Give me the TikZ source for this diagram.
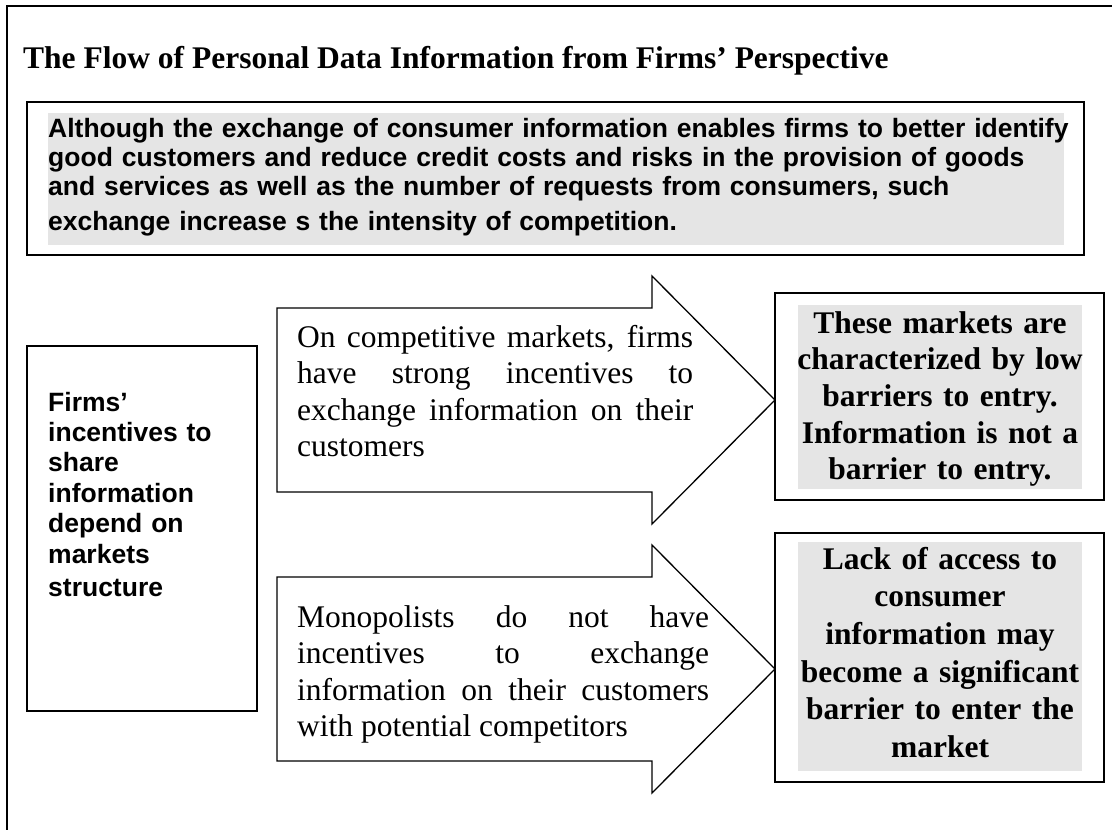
\documentclass[tikz,border=0pt]{standalone}
\usepackage{fontspec}
\setmainfont{Liberation Serif}
\setsansfont{Liberation Sans}
\definecolor{panelgrey}{RGB}{229,229,229}
\begin{document}
\begin{tikzpicture}[x=1pt,y=-1pt,
  frameline/.style={line width=2pt},
  boxline/.style={draw=black, line width=1.4pt},
  panel/.style={fill=panelgrey},
  blockarrow/.style={draw=black, line width=1.3pt, fill=white, line join=miter},
  titletext/.style={font=\bfseries\fontsize{31.5}{36}\selectfont, inner sep=0pt, anchor=base west},
  sanstext/.style={font=\sffamily\bfseries\fontsize{26.5}{29}\selectfont, inner sep=0pt, align=left, anchor=base west},
  bodytext/.style={font=\fontsize{31.5}{36.5}\selectfont, inner sep=0pt, align=justify, anchor=base west},
  resulttext/.style={font=\bfseries\fontsize{31.5}{36.7}\selectfont, inner sep=0pt, align=center, anchor=base, text width=310pt}]
\useasboundingbox (0,0) rectangle (1112,830);

% outer frame (left and top edges)
\draw[frameline] (7,830) -- (7,6) -- (1112,6);

% title
\node[titletext] (title) at (23,68) {The Flow of Personal Data Information from Firms’ Perspective};

% summary panel
\draw[boxline] (27,102) rectangle (1084,255);
\fill[panel] (48,113) rectangle (1064,245);
\node[sanstext, text width=1030pt] (summary) at (48,137) {Although the exchange of consumer information enables firms to better identify\\
good customers and reduce credit costs and risks in the provision of goods\\
and services as well as the number of requests from consumers, such\\[6pt]
exchange increase s the intensity of competition.};

% left box
\draw[boxline] (27,346) rectangle (257,711);
\node[sanstext, text width=205pt, font=\sffamily\bfseries\fontsize{26.5}{30.4}\selectfont] (incentives) at (48,411) {Firms’\\
incentives to\\
share\\
information\\
depend on\\
markets\\[2.6pt]
structure};

% block arrows
\coordinate (a1tail) at (277,400);
\coordinate (a1tip) at (775,400);
\draw[blockarrow] (277,308) -- (652,308) -- (652,276) -- (a1tip) -- (652,524) -- (652,492) -- (277,492) -- cycle;
\node[bodytext, text width=396pt] (competitive) at (297,347) {On competitive markets, firms\linebreak
have strong incentives to\linebreak
exchange information on their\linebreak
customers};

\coordinate (a2tail) at (277,669);
\coordinate (a2tip) at (775,669);
\draw[blockarrow] (277,577) -- (652,577) -- (652,545) -- (a2tip) -- (652,793) -- (652,761) -- (277,761) -- cycle;
\node[bodytext, text width=412pt] (monopoly) at (297,627) {Monopolists do not have\linebreak
incentives to exchange\linebreak
information on their customers\linebreak
with potential competitors};

% result boxes
\draw[boxline] (775,293) rectangle (1104,500);
\fill[panel] (798,305) rectangle (1082,489);
\node[resulttext] (lowbarriers) at (940,333) {These markets are\\
characterized by low\\
barriers to entry.\\
Information is not a\\
barrier to entry.};

\draw[boxline] (775,533) rectangle (1104,782);
\fill[panel] (798,542) rectangle (1082,771);
\node[resulttext, font=\bfseries\fontsize{31.5}{37.7}\selectfont] (barrier) at (940,569) {Lack of access to\\
consumer\\
information may\\
become a significant\\
barrier to enter the\\
market};
\end{tikzpicture}
\end{document}
